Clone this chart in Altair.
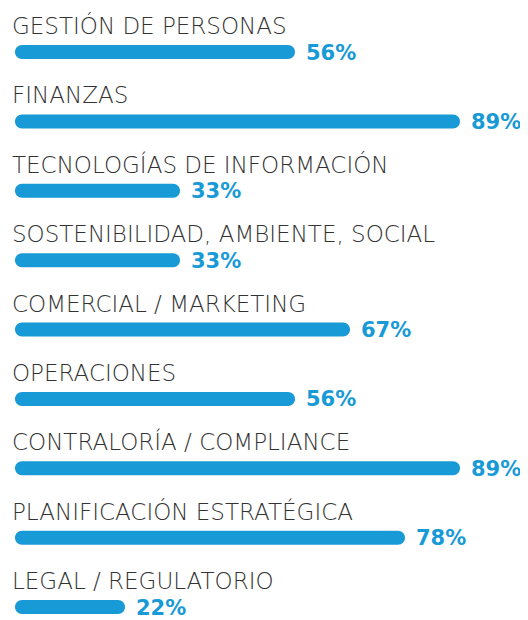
import altair as alt
import pandas as pd

categories = [
    "GESTIÓN DE PERSONAS",
    "FINANZAS",
    "TECNOLOGÍAS DE INFORMACIÓN",
    "SOSTENIBILIDAD, AMBIENTE, SOCIAL",
    "COMERCIAL / MARKETING",
    "OPERACIONES",
    "CONTRALORÍA / COMPLIANCE",
    "PLANIFICACIÓN ESTRATÉGICA",
    "LEGAL / REGULATORIO",
]
values = [56, 89, 33, 33, 67, 56, 89, 78, 22]
labels = [f"{v}%" for v in values]

df = pd.DataFrame({"cat": categories, "val": values, "lab": labels, "zero": [0] * len(values)})

BLUE = "#189ad6"

y = alt.Y("cat:N", sort=categories, axis=None,
          scale=alt.Scale(type="point", padding=0))
x_scale = alt.Scale(domain=[0, 100], nice=False, zero=True)

base = alt.Chart(df)

bars = base.mark_bar(height=14, cornerRadius=7, color=BLUE).encode(
    x=alt.X("zero:Q", scale=x_scale, axis=None),
    x2="val:Q",
    y=y,
)

names = base.mark_text(
    align="left", baseline="alphabetic", dx=-3, dy=-18,
    font="DejaVu Sans", fontWeight=200, fontSize=23, color="#333333",
).encode(
    x=alt.X("zero:Q", scale=x_scale, axis=None),
    y=y,
    text="cat:N",
)

pcts = base.mark_text(
    align="left", baseline="alphabetic", dx=11, dy=7.5,
    font="DejaVu Sans", fontWeight="bold", fontSize=21, color=BLUE,
).encode(
    x=alt.X("val:Q", scale=x_scale, axis=None),
    y=y,
    text="lab:N",
)

chart = alt.layer(bars, names, pcts).properties(
    width=500,
    height=555,
    autosize=alt.AutoSizeParams(type="none"),
    padding={"left": 7, "top": 44, "right": 5, "bottom": 12},
).configure_view(stroke=None)

chart.save("out.html", embed_options={"renderer": "svg", "actions": False})
